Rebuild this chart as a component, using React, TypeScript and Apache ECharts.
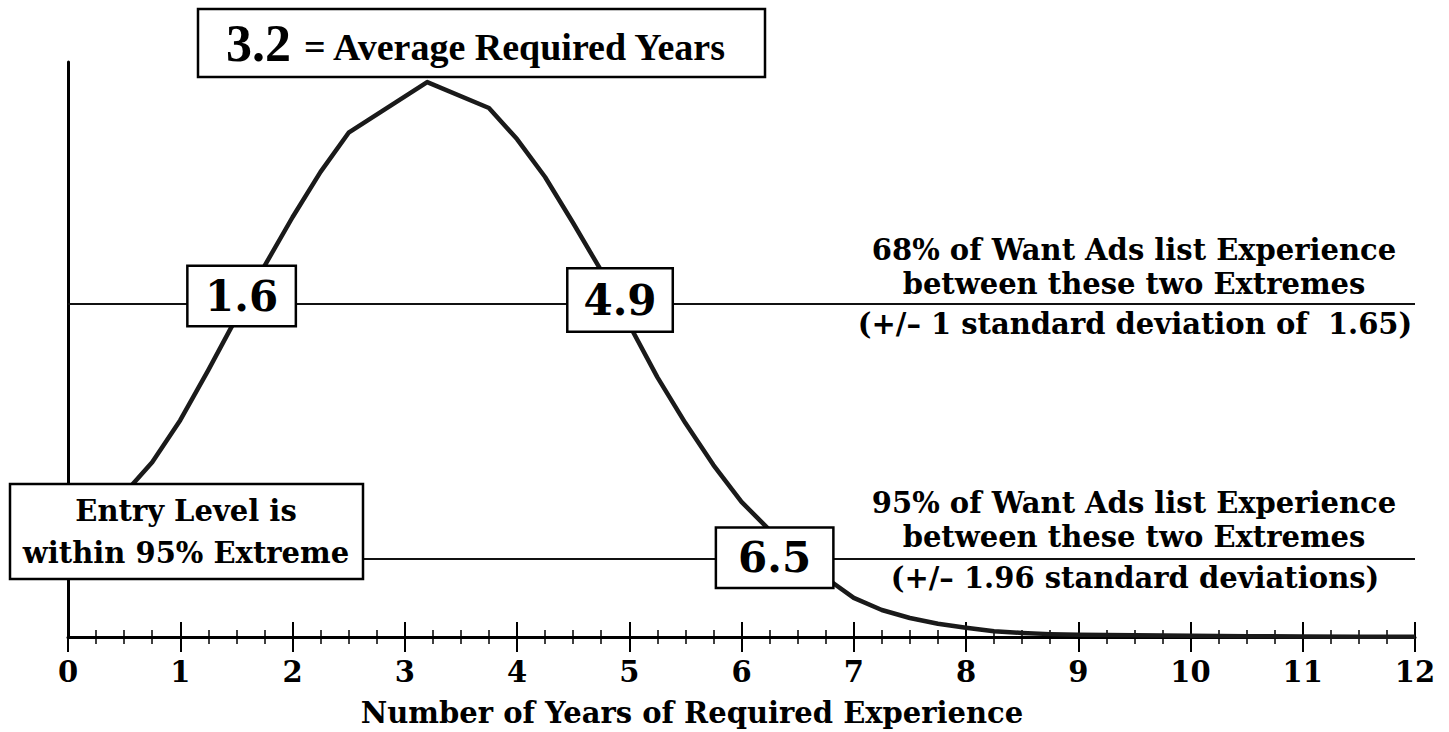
import React, { useEffect, useRef } from "react";
import * as echarts from "echarts";

// Years of required experience (x) and relative share of want ads (y, 0..100 scale)
const YEARS = [
  0, 0.25, 0.5, 0.75, 1, 1.25, 1.5, 1.75, 2, 2.25, 2.5, 3.2, 3.75, 4, 4.25, 4.5,
  4.75, 5, 5.25, 5.5, 5.75, 6, 6.25, 6.5, 6.75, 7, 7.25, 7.5, 7.75, 8, 8.25, 8.5,
  8.75, 9, 9.5, 10, 10.5, 11, 11.5, 12,
];
const SHARE = [
  14.8, 19.7, 24.9, 30.4, 37.7, 46.4, 55.5, 64.5, 73.0, 80.9, 87.7, 96.5, 92.0,
  86.6, 80.0, 72.0, 63.7, 54.3, 45.2, 37.2, 29.9, 23.5, 18.6, 14.1, 10.3, 6.8,
  4.7, 3.3, 2.3, 1.6, 1.0, 0.7, 0.5, 0.4, 0.3, 0.2, 0.15, 0.1, 0.05, 0.05,
];
const X_TICK_LABELS = ["0", "1", "2", "3", "4", "5", "6", "7", "8", "9", "10", "11", "12"];

// Band levels (y value where the 68% / 95% extremes are drawn)
const BAND_68 = 57.9;
const BAND_95 = 13.6;

// Boundary labels on the band lines
const BOUND_TEXT = ["1.6", "4.9", "6.5"];
const BOUND_X = [1.6, 4.9, 6.5];
const BOUND_Y = [BAND_68, BAND_68, BAND_95];

const SERIF = "DejaVu Serif";
const NUM_FONT = "Liberation Serif";

export default function App() {
  const ref = useRef<HTMLDivElement>(null);

  useEffect(() => {
    document.body.style.margin = "0";
    const chart = echarts.init(ref.current!, null, { renderer: "svg" });

    const boxLayout = [
      { w: 106, h: 58, offset: [-6, -8] },
      { w: 103, h: 61, offset: [2, -4] },
      { w: 115, h: 58, offset: [-23, -1] },
    ];

    const txt = (
      text: string,
      x: number,
      y: number,
      size: number,
      align: string = "center",
      family: string = SERIF
    ) => ({
      type: "text",
      x,
      y,
      z: 101,
      silent: true,
      style: {
        text,
        fill: "#000",
        font: `bold ${size}px "${family}"`,
        align,
        verticalAlign: "middle",
        textAlign: align,
        textVerticalAlign: "middle",
      },
    });

    const option: any = {
      animation: false,
      backgroundColor: "#fff",
      grid: { left: 68, right: 34, top: 62, bottom: 95, containLabel: false },
      xAxis: [
        {
          type: "value",
          min: 0,
          max: 12,
          interval: 1,
          position: "bottom",
          axisLine: { show: true, onZero: false, lineStyle: { color: "#000", width: 3 } },
          axisTick: { show: true, inside: false, length: 15, lineStyle: { color: "#000", width: 2 } },
          minorTick: { show: true, splitNumber: 4, length: 7, lineStyle: { color: "#000", width: 1.5 } },
          axisLabel: {
            show: true,
            margin: 20,
            fontFamily: SERIF,
            fontWeight: "bold",
            fontSize: 29,
            color: "#000",
            showMinLabel: true,
            showMaxLabel: true,
            formatter: (v: number) => X_TICK_LABELS[Math.round(v)] ?? "",
          },
          splitLine: { show: false },
          minorSplitLine: { show: false },
        },
        {
          type: "value",
          min: 0,
          max: 12,
          interval: 1,
          position: "bottom",
          gridIndex: 0,
          axisLine: { show: false, onZero: false },
          axisTick: { show: true, inside: true, length: 15, lineStyle: { color: "#000", width: 2 } },
          minorTick: { show: true, splitNumber: 4, length: 7, lineStyle: { color: "#000", width: 1.5 } },
          axisLabel: { show: false },
          splitLine: { show: false },
          minorSplitLine: { show: false },
        },
      ],
      yAxis: {
        type: "value",
        min: 0,
        max: 100,
        axisLine: { show: true, onZero: false, lineStyle: { color: "#000", width: 3 } },
        axisTick: { show: false },
        axisLabel: { show: false },
        splitLine: { show: false },
      },
      series: [
        {
          type: "line",
          data: [],
          silent: true,
          markLine: {
            symbol: "none",
            silent: true,
            label: { show: false },
            lineStyle: { color: "#111", width: 2, type: "solid", opacity: 1 },
            data: [{ yAxis: BAND_68 }, { yAxis: BAND_95 }],
          },
        },
        {
          type: "line",
          data: YEARS.map((x, i) => [x, SHARE[i]]),
          showSymbol: false,
          symbol: "none",
          smooth: false,
          z: 5,
          lineStyle: { color: "#1a1a1a", width: 4.5, join: "round" },
        },
        {
          type: "scatter",
          symbol: "rect",
          symbolSize: 1,
          z: 20,
          silent: true,
          itemStyle: { color: "#fff", opacity: 1 },
          data: BOUND_TEXT.map((t, i) => ({
            value: [BOUND_X[i], BOUND_Y[i]],
            itemStyle: { color: "#fff", opacity: 1 },
            label: {
              show: true,
              position: "inside",
              formatter: t,
              fontFamily: SERIF,
              fontWeight: "bold",
              fontSize: 42,
              color: "#000",
              opacity: 1,
              backgroundColor: "#fff",
              borderColor: "#000",
              borderWidth: 2.5,
              padding: 0,
              width: boxLayout[i].w,
              height: boxLayout[i].h,
              lineHeight: boxLayout[i].h,
              align: "center",
              verticalAlign: "middle",
              offset: boxLayout[i].offset,
            },
          })),
        },
      ],
      graphic: [
        {
          type: "rect",
          z: 100,
          silent: true,
          shape: { x: 198, y: 9, width: 567, height: 68 },
          style: { fill: "#fff", stroke: "#000", lineWidth: 2.5 },
        },
        txt("3.2", 226, 43, 52, "left", NUM_FONT),
        txt("= Average Required Years", 304, 47, 38, "left", NUM_FONT),
        {
          type: "rect",
          z: 100,
          silent: true,
          shape: { x: 10, y: 484, width: 353, height: 95 },
          style: { fill: "#fff", stroke: "#000", lineWidth: 2.5 },
        },
        txt("Entry Level is", 186, 511, 29),
        txt("within 95% Extreme", 186, 553, 29),
        txt("68% of Want Ads list Experience", 1134, 250, 29),
        txt("between these two Extremes", 1134, 284, 29),
        txt("(+/\u2013 1 standard deviation of  1.65)", 1135, 324, 29),
        txt("95% of Want Ads list Experience", 1134, 503, 29),
        txt("between these two Extremes", 1134, 537, 29),
        txt("(+/\u2013 1.96 standard deviations)", 1135, 578, 29),
        txt("Number of Years of Required Experience", 692, 713, 29),
      ],
    };

    chart.setOption(option);
    return () => chart.dispose();
  }, []);

  return (
    <div
      ref={ref}
      style={{ position: "absolute", left: 0, top: 0, width: 1449, height: 732 }}
    />
  );
}
